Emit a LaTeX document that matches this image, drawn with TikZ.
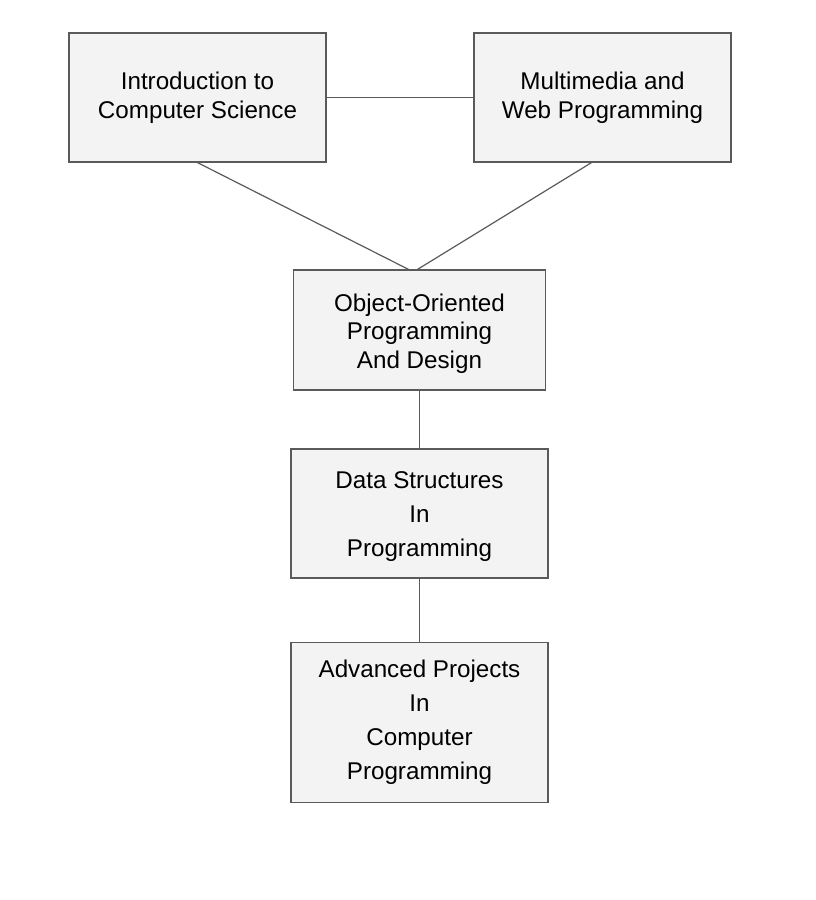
\documentclass[tikz,border=0pt]{standalone}
\usepackage{fontspec}
\setmainfont{Liberation Sans}
\definecolor{boxfill}{HTML}{F3F3F3}
\definecolor{boxline}{HTML}{5A5A5A}
\begin{document}
\begin{tikzpicture}[x=1pt,y=-1pt,
  course/.style={draw=boxline,fill=boxfill,line width=1.2pt,inner sep=0pt,
    align=center,text=black,font=\fontsize{24.2}{28.5}\selectfont},
  tallcourse/.style={course,font=\fontsize{24.2}{34}\selectfont},
  coursetext/.style={align=center,text=black,inner sep=0pt,font=\fontsize{24.2}{28.5}\selectfont},
  talltext/.style={coursetext,font=\fontsize{24.2}{34}\selectfont},
  link/.style={draw=boxline,line width=1.2pt}]
\useasboundingbox (0,0) rectangle (816,900);
\node[course,minimum width=257pt,minimum height=129pt] (intro) at (197.5,97.5) {Introduction to\\Computer Science};
\node[course,minimum width=257pt,minimum height=129pt] (web) at (602.5,97.5) {Multimedia and\\Web Programming};
\node[course,minimum width=252pt,minimum height=120pt,
  label={[coursetext,yshift=-3.5pt]center:Object-Oriented\\Programming\\And Design}] (oop) at (419.5,330) {};
\node[tallcourse,minimum width=257pt,minimum height=129pt,
  label={[talltext,yshift=-3pt]center:Data Structures\\In\\Programming}] (ds) at (419.5,513.5) {};
\node[tallcourse,minimum width=257pt,minimum height=160pt] (adv) at (419.5,722.5) {Advanced Projects\\In\\Computer\\Programming};
\draw[link] (intro.east) -- (web.west);
\draw[link] (intro.south) -- ([xshift=-11pt]oop.north);
\draw[link] ([xshift=-11pt]web.south) -- ([xshift=-2pt]oop.north);
\draw[link] (oop.south) -- (ds.north);
\draw[link] (ds.south) -- (adv.north);
\end{tikzpicture}
\end{document}
